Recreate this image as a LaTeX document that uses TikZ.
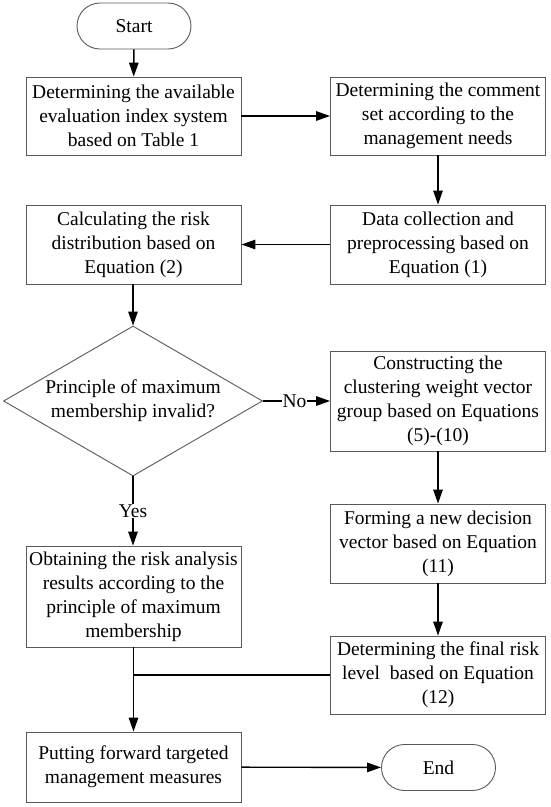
\documentclass[tikz,border=0pt]{standalone}
\usepackage{fontspec}
\setmainfont{Liberation Serif}
\usetikzlibrary{arrows.meta,shapes.geometric,shapes.misc}
\begin{document}
\begin{tikzpicture}[x=1pt,y=-1pt,
  every node/.style={font=\fontsize{19.5}{24}\selectfont, align=center, text=black},
  proc/.style={draw=black!65, line width=0.9pt, rectangle, minimum width=215pt, inner sep=0pt},
  term/.style={draw=black!65, line width=0.9pt, rounded rectangle, minimum width=114pt, minimum height=46pt, inner sep=0pt},
  dec/.style={draw=black!65, line width=0.9pt, diamond, aspect=1.727, minimum width=259pt, minimum height=150pt, inner sep=0pt},
  flow/.style={line width=1.4pt, -{Triangle[length=14pt,width=9.5pt]}},
  plain/.style={line width=1.4pt},
  lbl/.style={fill=white, inner sep=1pt}
]
\useasboundingbox (0,0) rectangle (550,807);
\node[term] (start) at (134,26) {Start};
\node[proc, minimum height=78pt] (b1) at (133.5,116) {Determining the available\\evaluation index system\\based on Table 1};
\node[proc, minimum height=78pt] (b2) at (438,116) {Determining the comment\\set according to the\\management needs};
\node[proc, minimum height=79pt] (b3) at (438,244.5) {Data collection and\\preprocessing based on\\Equation (1)};
\node[proc, minimum height=79pt] (b4) at (133.5,244.5) {Calculating the risk\\distribution based on\\Equation (2)};
\node[dec] (d) at (133,401) {Principle of maximum\\membership invalid?};
\node[proc, minimum height=100pt] (b5) at (438,401) {Constructing the\\clustering weight vector\\group based on Equations\\(5)-(10)};
\node[proc, minimum height=79pt] (b6) at (438,543.5) {Forming a new decision\\vector based on Equation\\(11)};
\node[proc, minimum height=78pt] (b7) at (438,675) {Determining the final risk\\level\ \ based on Equation\\(12)};
\node[proc, minimum height=101pt] (b8) at (133.5,596.5) {Obtaining the risk analysis\\results according to the\\principle of maximum\\membership};
\node[proc, minimum height=70pt] (b9) at (133.5,767) {Putting forward targeted\\management measures};
\node[term] (end) at (438.5,767.5) {End};

\draw[flow] (start) -- (b1);
\draw[flow] (b1) -- (b2);
\draw[flow] (b2) -- (b3);
\draw[flow] (b3) -- (b4);
\draw[flow] (b4.south -| d.north) -- (d.north);
\draw[flow] (d.east) -- node[lbl, pos=0.47] {No} (b5.west);
\draw[flow] (d.south) -- node[lbl] {Yes} (b8.north -| d.south);
\draw[flow] (b5) -- (b6);
\draw[flow] (b6) -- (b7);
\draw[flow] (b8) -- (b9);
\coordinate (j) at (b7.west -| b8.south);
\draw[plain] (b7.west) -- (j);
\draw[flow] (b9) -- (end);
\end{tikzpicture}
\end{document}
